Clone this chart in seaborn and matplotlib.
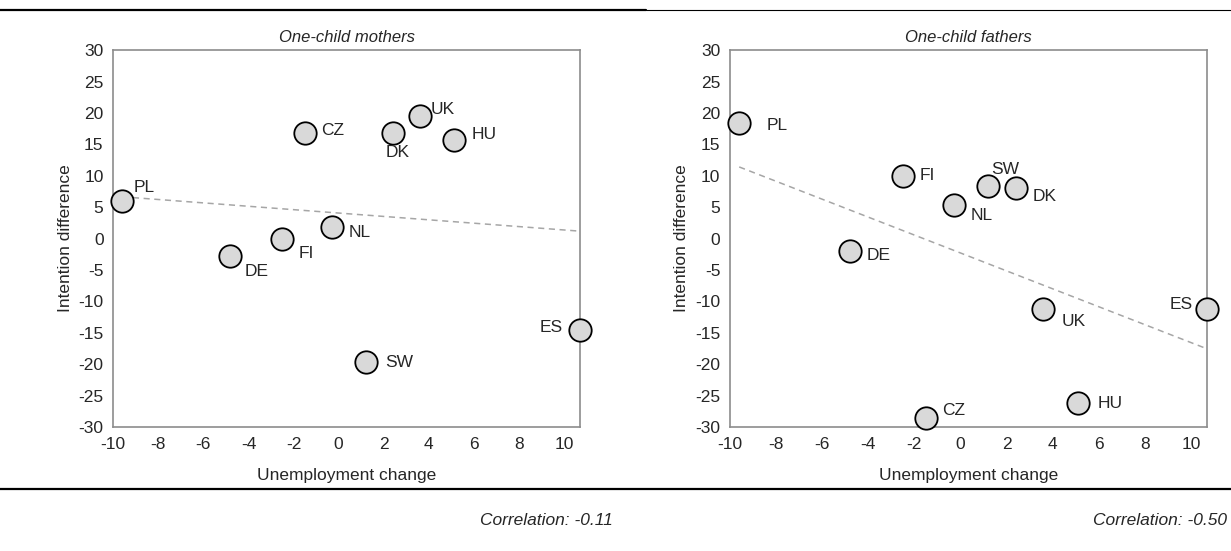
import matplotlib
matplotlib.use("Agg")
import matplotlib.pyplot as plt
import seaborn as sns
import pandas as pd

countries = ["PL", "DE", "FI", "NL", "CZ", "SW", "DK", "UK", "HU", "ES"]
unemp_change = [-9.6, -4.8, -2.5, -0.3, -1.5, 1.2, 2.4, 3.6, 5.1, 10.7]
mothers_diff = [6.0, -2.8, 0.0, 1.8, 16.8, -19.7, 16.8, 19.5, 15.7, -14.6]
fathers_diff = [18.4, -2.0, 10.0, 5.4, -28.5, 8.3, 8.0, -11.2, -26.2, -11.2]

# label offsets in points (dx, dy, ha)
mothers_off = {"PL": (8, 10, "left"), "DE": (10, -11, "left"), "FI": (12, -11, "left"),
               "NL": (12, -4, "left"), "CZ": (12, 2, "left"), "SW": (14, 0, "left"),
               "DK": (-5, -14, "left"), "UK": (8, 5, "left"), "HU": (13, 4, "left"),
               "ES": (-12, 2, "right")}
fathers_off = {"PL": (20, -2, "left"), "DE": (12, -3, "left"), "FI": (12, 0, "left"),
               "NL": (12, -8, "left"), "CZ": (12, 5, "left"), "SW": (2, 12, "left"),
               "DK": (12, -6, "left"), "UK": (13, -9, "left"), "HU": (14, 0, "left"),
               "ES": (-10, 3, "right")}

sns.set_style("white")
plt.rcParams["font.family"] = ["Liberation Sans", "DejaVu Sans"]
plt.rcParams["axes.unicode_minus"] = False

fig = plt.figure(figsize=(12.31, 5.51), dpi=100)
ax1 = fig.add_axes([0.092, 0.225, 0.379, 0.684])
ax2 = fig.add_axes([0.593, 0.225, 0.3875, 0.684])

panels = [(ax1, mothers_diff, mothers_off, "One-child mothers", "Correlation: -0.11", 0.498),
          (ax2, fathers_diff, fathers_off, "One-child fathers", "Correlation: -0.50", 0.997)]

for ax, yvals, offs, title, corr, cx in panels:
    df = pd.DataFrame({"x": unemp_change, "y": yvals, "c": countries})
    sns.regplot(data=df, x="x", y="y", ax=ax, scatter=False, ci=None, truncate=True,
                line_kws=dict(color="#a6a6a6", lw=1.1, ls=(0, (4, 3))))
    sns.scatterplot(data=df, x="x", y="y", ax=ax, s=260, color="#d9d9d9",
                    edgecolor="black", linewidth=1.3, zorder=3, clip_on=False)
    for _, r in df.iterrows():
        dx, dy, ha = offs[r["c"]]
        ax.annotate(r["c"], (r["x"], r["y"]), xytext=(dx, dy), textcoords="offset points",
                    ha=ha, va="center", fontsize=12.5)
    ax.set_xlim(-10, 10.7)
    ax.set_ylim(-30, 30)
    ax.set_xticks(range(-10, 11, 2))
    ax.set_yticks(range(-30, 31, 5))
    ax.tick_params(direction="inout", length=7, color="#8c8c8c", labelsize=12.5)
    for sp in ax.spines.values():
        sp.set_color("#8c8c8c")
        sp.set_linewidth(1.2)
    ax.set_xlabel("Unemployment change", fontsize=12.5, labelpad=12)
    ax.set_ylabel("Intention difference", fontsize=12.5)
    ax.set_title(title, fontsize=12, style="italic", pad=6)
    fig.text(cx, 0.055, corr, ha="right", va="center", fontsize=12.5, style="italic")

# frame lines
fig.add_artist(plt.Line2D([0, 0.525], [0.982, 0.982], color="black", lw=1.6))
fig.add_artist(plt.Line2D([0.525, 1], [0.982, 0.982], color="black", lw=0.8))
fig.add_artist(plt.Line2D([0, 1], [0.112, 0.112], color="black", lw=1.6))

fig.savefig("out.png", dpi=100)
